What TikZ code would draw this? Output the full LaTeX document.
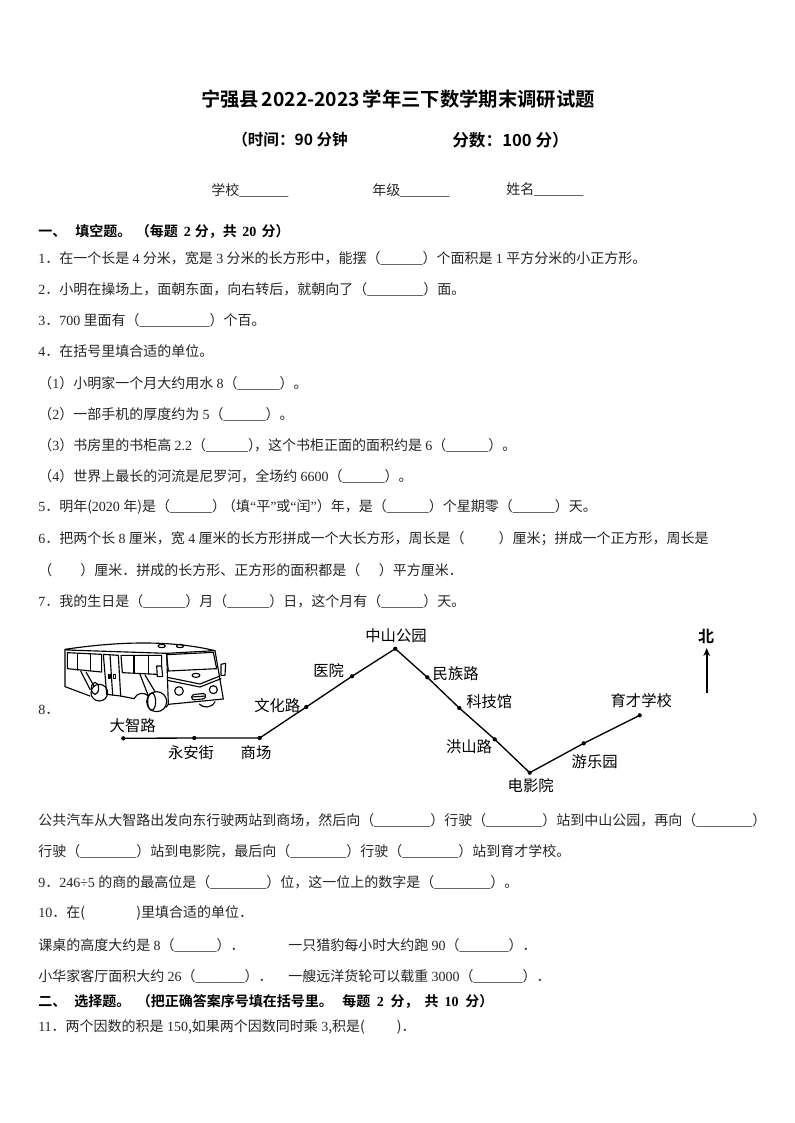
\documentclass[tikz,border=0pt]{standalone}
\usepackage{fontspec}
\setmainfont{Noto Sans CJK SC}[BoldFont={Noto Sans CJK SC Bold}]
\newfontfamily\latf{Liberation Serif}
\newcommand\lat[1]{{\latf #1}}
\newcommand\bks{\lat{\_\_\_\_\_\_}}
\newcommand\bkv{\lat{\_\_\_\_\_\_\_}}
\newcommand\bke{\lat{\_\_\_\_\_\_\_\_}}
\newcommand\tsp{\hspace{2.5pt}}
\newcommand\gp[1]{\hspace{#1pt}}
\usetikzlibrary{arrows.meta}
\tikzset{
 x=0.75pt,y=-0.75pt,
 line/.style={anchor=west,inner sep=0pt,font=\fontsize{10.5pt}{12pt}\selectfont,text=black!85},
 sechead/.style={line,font=\fontsize{10.5pt}{12pt}\bfseries\selectfont,text=black},
 maplabel/.style={inner sep=0pt,font=\fontsize{11.5pt}{12pt}\selectfont,text=black},
 route/.style={draw=black,line width=1pt},
 stop/.style={circle,fill=black,inner sep=0pt,minimum size=3.2pt},
 busline/.style={draw=black,line width=0.85pt,line cap=round,line join=round}
}
\begin{document}
\begin{tikzpicture}
\useasboundingbox (0,0) rectangle (794,1123);
\fill[white] (0,0) rectangle (794,1123);
\node[inner sep=0pt,font=\fontsize{14.5pt}{16pt}\bfseries\selectfont] (title) at (398,99) {宁强县\gp{2}2022-2023\gp{2}学年三下数学期末调研试题};
\node[anchor=west,inner sep=0pt,font=\fontsize{11.7pt}{14pt}\bfseries\selectfont] (time) at (232,140) {（时间：90 分钟};
\node[anchor=west,inner sep=0pt,font=\fontsize{12.5pt}{14pt}\bfseries\selectfont] (score) at (452,140) {分数：100 分）};
\node[line] (sch) at (211,190) {学校\bkv};
\node[line] (grd) at (372,190) {年级\bkv};
\node[line] (nam) at (506,190) {姓名\bkv};
\node[sechead] (s1) at (38,231) {一、\gp{6.75}填空题。\gp{3.5}（每题\gp{4.5}\lat{2}\gp{3}分，共\gp{4}\lat{20}\gp{4}分）};
\node[line] (q1) at (38,258) {\lat{1}．在一个长是\tsp\lat{4}\tsp 分米，宽是\tsp\lat{3}\tsp 分米的长方形中，能摆（\bks）个面积是\tsp\lat{1}\tsp 平方分米的小正方形。};
\node[line] (q2) at (38,289) {\lat{2}．小明在操场上，面朝东面，向右转后，就朝向了（\bke）面。};
\node[line] (q3) at (38,320) {\lat{3}．\lat{700}\tsp 里面有（\lat{\_\_\_\_\_\_\_\_\_\_}）个百。};
\node[line] (q4) at (38,351) {\lat{4}．在括号里填合适的单位。};
\node[line] (q4a) at (38,383) {（\lat{1}）小明家一个月大约用水\tsp\lat{8}（\bks）。};
\node[line] (q4b) at (38,414) {（\lat{2}）一部手机的厚度约为\tsp\lat{5}（\bks）。};
\node[line] (q4c) at (38,445) {（\lat{3}）书房里的书柜高\tsp\lat{2.2}（\bks）\gp{-6}，这个书柜正面的面积约是\tsp\lat{6}（\bks）。};
\node[line] (q4d) at (38,476) {（\lat{4}）世界上最长的河流是尼罗河，全场约\tsp\lat{6600}（\bks）。};
\node[line] (q5) at (38,507) {\lat{5}．明年(\lat{2020}\tsp 年)是（\bks）\gp{-3}（填\lat{“}平\lat{”}或\lat{“}闰\lat{”}）年，是（\bks）个星期零（\bks）天。};
\node[line] (q6) at (38,539) {\lat{6}．把两个长\tsp\lat{8}\tsp 厘米，宽\tsp\lat{4}\tsp 厘米的长方形拼成一个大长方形，周长是（\gp{25.5}）厘米；拼成一个正方形，周长是};
\node[line] (q6b) at (38,570) {（\gp{21}）厘米．拼成的长方形、正方形的面积都是（\gp{14}）平方厘米．};
\node[line] (q7) at (38,601) {\lat{7}．我的生日是（\bks）月（\bks）日，这个月有（\bks）天。};
\node[line] (q8) at (38,710) {\lat{8}．};
% map
\node[stop] (a1) at (123.3,738.3) {};
\node[stop] (a2) at (194.3,738) {};
\node[stop] (a3) at (259.7,738) {};
\node[stop] (a4) at (306.3,707) {};
\node[stop] (a5) at (352,676.3) {};
\node[stop] (a6) at (395.3,648.7) {};
\node[stop] (a7) at (427.3,677.3) {};
\node[stop] (a8) at (459.3,708) {};
\node[stop] (a9) at (494.7,739.3) {};
\node[stop] (a10) at (529.7,772.7) {};
\node[stop] (a11) at (583.7,743.3) {};
\node[stop] (a12) at (639.7,715.3) {};
\draw[route] (a1.center) -- (a2.center) -- (a3.center) -- (a4.center) -- (a5.center) -- (a6.center) -- (a7.center) -- (a8.center) -- (a9.center) -- (a10.center) -- (a11.center) -- (a12.center);
\node[maplabel] (l1) at (132.7,726) {大智路};
\node[maplabel] (l2) at (191,752.7) {永安街};
\node[maplabel] (l3) at (256,752.7) {商场};
\node[maplabel] (l4) at (277.3,705.3) {文化路};
\node[maplabel] (l5) at (328.7,670.7) {医院};
\node[maplabel] (l6) at (396,636) {中山公园};
\node[maplabel] (l7) at (455.7,673.3) {民族路};
\node[maplabel] (l8) at (489.3,702) {科技馆};
\node[maplabel] (l9) at (469,746.7) {洪山路};
\node[maplabel] (l10) at (530.7,786) {电影院};
\node[maplabel] (l11) at (594.7,761.3) {游乐园};
\node[maplabel] (l12) at (641.3,700.3) {育才学校};
\node[maplabel,font=\fontsize{12pt}{12pt}\bfseries\selectfont] (north) at (706,636) {北};
\coordinate (ntail) at (706.7,693);
\coordinate (nhead) at (706.7,648);
\draw[draw=black,line width=1.3pt,-{Stealth[length=6pt,width=5pt]}] (ntail) -- (nhead);
% bus, in the px of the first crop (3x, offset 40,620)
\begin{scope}[shift={(40,620)},x=0.25pt,y=-0.25pt,busline]
\draw (75,88) .. controls (250,62) and (400,62) .. (525,92) -- (380,100) -- (80,90);
\draw (75,88) -- (75,200) -- (150,228);
\draw (82,98) -- (185,103) -- (185,156) -- (82,146) -- cycle;
\draw (112,100) -- (112,150) (152,102) -- (152,153);
\draw (190,103) -- (235,106) -- (242,228) -- (200,223) -- cycle;
\draw (210,104) -- (218,225);
\draw (205,163) rectangle (210,175) (221,163) rectangle (226,175);
\draw (243,106) -- (365,106) -- (365,138) (243,106) -- (247,158) -- (350,163);
\draw (282,106) -- (282,160) (326,106) -- (326,162);
\draw (350,138) -- (365,138) -- (368,170) -- (352,170) -- cycle;
\draw (380,100) -- (385,253) -- (550,237) -- (525,92);
\draw (380,104) -- (520,97) -- (530,146) -- (385,153) -- cycle;
\draw (365,78) ellipse (11 and 5) (420,78) ellipse (11 and 5);
\draw (543,133) -- (557,130) -- (555,166) -- (543,166) -- cycle;
\draw (382,172) -- (480,192) -- (540,168) (382,181) -- (480,201) -- (543,176);
\draw (468,166) ellipse (12 and 6);
\draw (417,213) circle (13) (520,209) circle (12);
\draw[rounded corners=2pt] (455,224) -- (497,220) -- (497,236) -- (455,240) -- cycle;
\draw (455,231) -- (497,228);
\draw (178,218) ellipse (25 and 25);
\draw (165,205) ellipse (11 and 18) (122,153) -- (150,208) (138,156) -- (162,198);
\draw (350,245) ellipse (30 and 30);
\draw (335,245) ellipse (12 and 26) (300,163) -- (326,230) (315,165) -- (345,215);
\draw (282,236) .. controls (292,218) and (310,215) .. (326,228);
\draw (242,228) -- (282,236);
\draw (378,262) -- (385,253);
\draw (478,252) .. controls (490,265) and (515,265) .. (525,245);
\end{scope}
% text below map
\node[line] (t1) at (38,820) {公共汽车从大智路出发向东行驶两站到商场，然后向（\bke）行驶（\bke）站到中山公园，再向（\bke）};
\node[line] (t2) at (38,851) {行驶（\bke）站到电影院，最后向（\bke）行驶（\bke）站到育才学校。};
\node[line] (q9) at (38,882) {\lat{9}．\lat{246÷5}\tsp 的商的最高位是（\bke）位，这一位上的数字是（\bke）。};
\node[line] (q10) at (38,913) {\lat{10}．在(\gp{38.5})里填合适的单位．};
\node[line] (q10a) at (38,945) {课桌的高度大约是\tsp\lat{8}（\bks）．};
\node[line] (q10b) at (288,945) {一只猎豹每小时大约跑\tsp\lat{90}（\bkv）．};
\node[line] (q10c) at (38,976) {小华家客厅面积大约\tsp\lat{26}（\bkv）．};
\node[line] (q10d) at (288,976) {一艘远洋货轮可以载重\tsp\lat{3000}（\bkv）．};
\node[sechead] (s2) at (38,1001) {二、\gp{6}选择题。\gp{5}（把正确答案序号填在括号里。\gp{7}每题\gp{5}\lat{2}\gp{5}分，\gp{4.5}共\gp{4.5}\lat{10}\gp{5}分）};
\node[line] (q11) at (38,1027) {\lat{11}．两个因数的积是\tsp\lat{150},如果两个因数同时乘\tsp\lat{3},积是(\gp{24})．};
\end{tikzpicture}
\end{document}
